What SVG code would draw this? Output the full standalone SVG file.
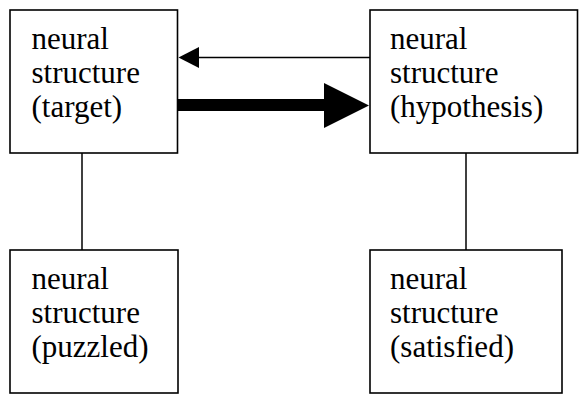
<svg xmlns="http://www.w3.org/2000/svg" width="579" height="395" viewBox="0 0 579 395">
<style>
.box{fill:#fff;stroke:#000;stroke-width:1.6}
.ln{stroke:#000;stroke-width:1.5;fill:none}
text{font-family:'Liberation Serif','Times New Roman',serif;font-size:31px;fill:#000}
</style>
<rect width="579" height="395" fill="#fff"/>
<g id="connectors">
<line class="ln" x1="82" y1="153" x2="82" y2="250"/>
<line class="ln" x1="466" y1="153" x2="466" y2="250"/>
<line class="ln" x1="370" y1="57.5" x2="198" y2="57.5"/>
<polygon points="178.5,57.5 199,47 199,68" fill="#000"/>
<rect x="178" y="99" width="147" height="12" fill="#000"/>
<polygon points="369,105.5 324,83 324,128" fill="#000"/>
</g>
<g id="target">
<rect class="box" x="10" y="10" width="167.5" height="143"/>
<text x="31.5" y="49">neural</text>
<text x="31.5" y="83">structure</text>
<text x="31.5" y="117">(target)</text>
</g>
<g id="hypothesis">
<rect class="box" x="370" y="10" width="207.5" height="143"/>
<text x="390" y="49">neural</text>
<text x="390" y="83">structure</text>
<text x="390" y="117">(hypothesis)</text>
</g>
<g id="puzzled">
<rect class="box" x="10" y="250" width="168" height="143"/>
<text x="31.5" y="288.5">neural</text>
<text x="31.5" y="322.5">structure</text>
<text x="31.5" y="356.5">(puzzled)</text>
</g>
<g id="satisfied">
<rect class="box" x="370" y="250" width="192" height="143"/>
<text x="390" y="288.5">neural</text>
<text x="390" y="322.5">structure</text>
<text x="390" y="356.5">(satisfied)</text>
</g>
</svg>
